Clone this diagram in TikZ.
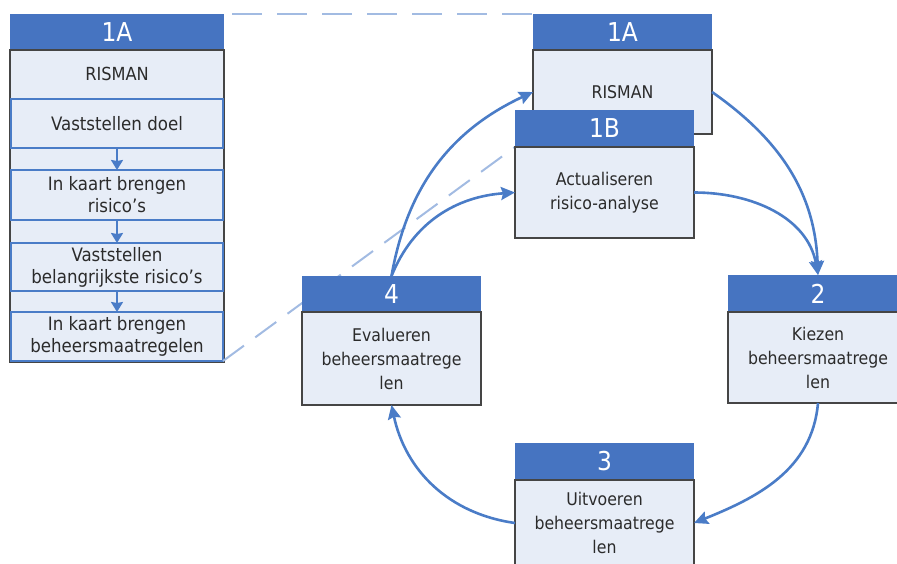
\documentclass[tikz,border=0pt]{standalone}
\usepackage{fontspec}
\setmainfont{DejaVu Sans Condensed}
\usetikzlibrary{arrows.meta,calc}

\definecolor{hdrblue}{HTML}{4674C1}
\definecolor{bodyfill}{HTML}{E7EDF7}
\definecolor{edge}{HTML}{454545}
\definecolor{flow}{HTML}{4A7CC7}
\definecolor{dashblue}{HTML}{A2BBE2}
\definecolor{txt}{HTML}{2B2B2B}

\tikzset{
  x=1pt, y=1pt,
  hdr/.style={fill=hdrblue, text=white, inner sep=0pt, outer sep=0pt,
    anchor=north west, font=\fontsize{26}{30}\selectfont},
  body/.style={fill=bodyfill, draw=edge, line width=1.6pt, inner sep=0pt,
    outer sep=0pt, anchor=north west, text=txt, align=center,
    font=\fontsize{17.5}{24}\selectfont},
  substep/.style={fill=bodyfill, draw=flow, line width=2pt, inner sep=0pt,
    outer sep=0pt, anchor=north west, text=txt, align=center,
    minimum width=212pt, font=\fontsize{18.5}{22}\selectfont},
  flowarrow/.style={draw=flow, line width=2.6pt,
    -{Stealth[length=14pt,width=13pt,inset=2pt]}},
  smallarrow/.style={draw=flow, line width=2pt,
    -{Stealth[length=10pt,width=12pt,inset=1pt]}},
  linkdash/.style={draw=dashblue, line width=2pt, dash pattern=on 30pt off 15pt},
}

\begin{document}
\begin{tikzpicture}
\useasboundingbox (0,0) rectangle (897,-564);
\clip (0,0) rectangle (897,-564);

% ---- left panel: RISMAN steps ----
\node[hdr, minimum width=214pt, minimum height=36pt] (L1Ah) at (10,-14) {1A};
\node[body, minimum width=214pt, minimum height=312pt] (Lbody) at (10,-50) {};
\node[text=txt, font=\fontsize{18}{22}\selectfont] (Lrisman) at (117,-74) {RISMAN};
\node[substep, minimum height=49pt] (Ls1) at (11,-99) {Vaststellen doel};
\node[substep, minimum height=50pt] (Ls2) at (11,-170) {In kaart brengen\\risico’s};
\node[substep, minimum height=48pt] (Ls3) at (11,-243) {Vaststellen\\belangrijkste risico’s};
\node[substep, minimum height=49pt] (Ls4) at (11,-312) {In kaart brengen\\beheersmaatregelen};

\draw[smallarrow] (Ls1.south) -- (Ls2.north);
\draw[smallarrow] (Ls2.south) -- (Ls3.north);
\draw[smallarrow] (Ls3.south) -- (Ls4.north);

% ---- cycle boxes ----
\node[hdr, minimum width=179pt, minimum height=36pt] (A1h) at (533,-14) {1A};
\node[body, minimum width=179pt, minimum height=84pt] (A1b) at (533,-50) {RISMAN};

% dashed links from the left panel to the cycle
\draw[linkdash, shorten <=8pt] (L1Ah.north east) -- (A1h.north west);
\coordinate (B1corner) at (515,-147);
\draw[linkdash, dash pattern=on 26pt off 14pt] (Ls4.south east) -- (B1corner);

\node[hdr, minimum width=179pt, minimum height=37pt] (B1h) at (515,-110) {1B};
\node[body, minimum width=179pt, minimum height=91pt] (B1b) at (515,-147) {Actualiseren\\risico-analyse};

\node[hdr, minimum width=179pt, minimum height=36pt] (H4) at (302,-276) {4};
\node[body, minimum width=179pt, minimum height=93pt] (B4) at (302,-312) {Evalueren\\beheersmaatrege\\len};

\node[hdr, minimum width=180pt, minimum height=37pt] (H2) at (728,-275) {2};
\node[body, minimum width=180pt, minimum height=91pt] (B2) at (728,-312) {Kiezen\\beheersmaatrege\\len};

\node[hdr, minimum width=179pt, minimum height=37pt] (H3) at (515,-443) {3};
\node[body, minimum width=179pt, minimum height=86pt] (B3) at (515,-480) {Uitvoeren\\beheersmaatrege\\len};

% ---- cycle arrows ----
\draw[flowarrow] (H4.north) to[out=80, in=205] (A1b.west);
\draw[flowarrow] (H4.north) to[out=68, in=184] (B1b.west);
\draw[flowarrow] (A1b.east) to[out=-35, in=92] (H2.north);
\draw[flowarrow] (B1b.east) to[out=0, in=100] (H2.north);
\draw[flowarrow] (B2.south) to[out=-95, in=22] (B3.east);
\draw[flowarrow] (B3.west) to[out=172, in=-78] (B4.south);
\end{tikzpicture}
\end{document}
